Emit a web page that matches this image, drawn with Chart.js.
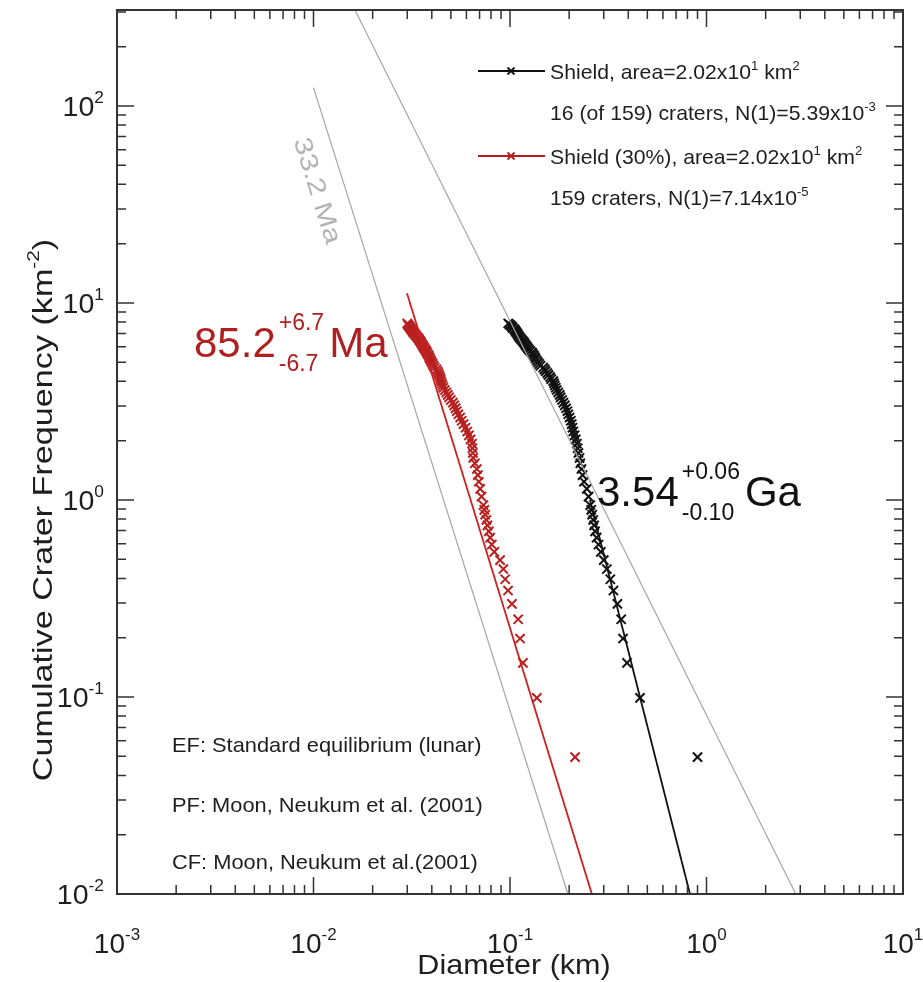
<!DOCTYPE html>
<html lang="en">
<head>
  <meta charset="UTF-8">
  <title>Shield crater size-frequency distribution</title>
  <script src="https://cdn.jsdelivr.net/npm/chart.js"></script>
  <style>
    body { margin: 0; background: white; }
    #wrap { position: absolute; left: 0; top: 0; width: 923px; height: 982px; }
  </style>
</head>
<body>
<div id="wrap"><canvas id="csfd" width="923" height="982"></canvas></div>

<script>
// cumulative frequency (km^-2), same steps for both shield plots
let cumN = [7.871, 7.772, 7.673, 7.574, 7.475, 7.376, 7.277, 7.178, 7.079, 6.980,
  6.881, 6.782, 6.683, 6.584, 6.485, 6.386, 6.287, 6.188, 6.089, 5.990,
  5.891, 5.792, 5.693, 5.594, 5.495, 5.396, 5.297, 5.198, 5.099, 5.000,
  4.901, 4.802, 4.703, 4.604, 4.505, 4.406, 4.307, 4.208, 4.109, 4.010,
  3.911, 3.812, 3.713, 3.614, 3.515, 3.416, 3.317, 3.218, 3.119, 3.020,
  2.921, 2.822, 2.723, 2.624, 2.525, 2.426, 2.327, 2.228, 2.129, 2.030,
  1.931, 1.832, 1.733, 1.634, 1.535, 1.436, 1.337, 1.238, 1.139, 1.040,
  0.941, 0.891, 0.842, 0.792, 0.743, 0.693, 0.644, 0.594, 0.545, 0.495,
  0.446, 0.396, 0.347, 0.297, 0.248, 0.198, 0.149, 0.099, 0.0495];

// diameters (km), Shield
let shieldD = [0.0980, 0.0995, 0.1010, 0.1025, 0.1030, 0.1050, 0.1060, 0.1070, 0.1080, 0.1090,
  0.1100, 0.1110, 0.1120, 0.1135, 0.1150, 0.1165, 0.1180, 0.1190, 0.1205, 0.1220,
  0.1235, 0.1250, 0.1270, 0.1295, 0.1310, 0.1325, 0.1340, 0.1350, 0.1370, 0.1390,
  0.1410, 0.1430, 0.1475, 0.1500, 0.1520, 0.1550, 0.1570, 0.1600, 0.1620, 0.1660,
  0.1675, 0.1690, 0.1710, 0.1730, 0.1760, 0.1790, 0.1810, 0.1840, 0.1870, 0.1900,
  0.1930, 0.1960, 0.1980, 0.2010, 0.2040, 0.2060, 0.2080, 0.2100, 0.2130, 0.2160,
  0.2190, 0.2210, 0.2230, 0.2260, 0.2280, 0.2310, 0.2340, 0.2380, 0.2460, 0.2510,
  0.2560, 0.2590, 0.2620, 0.2650, 0.2680, 0.2710, 0.2760, 0.2820, 0.2900, 0.3000,
  0.3110, 0.3240, 0.3360, 0.3520, 0.3680, 0.3760, 0.3940, 0.4590, 0.9000];

// diameters (km), Shield (30%)
let shield30D = [0.0300, 0.0302, 0.0305, 0.0308, 0.0311, 0.0314, 0.0317, 0.0320, 0.0323, 0.0327,
  0.0331, 0.0335, 0.0339, 0.0343, 0.0346, 0.0350, 0.0353, 0.0356, 0.0360, 0.0363,
  0.0367, 0.0371, 0.0375, 0.0378, 0.0382, 0.0386, 0.0389, 0.0392, 0.0396, 0.0400,
  0.0404, 0.0408, 0.0413, 0.0422, 0.0428, 0.0432, 0.0436, 0.0440, 0.0443, 0.0446,
  0.0450, 0.0454, 0.0458, 0.0466, 0.0474, 0.0482, 0.0490, 0.0500, 0.0512, 0.0520,
  0.0528, 0.0536, 0.0546, 0.0558, 0.0568, 0.0580, 0.0594, 0.0606, 0.0618, 0.0630,
  0.0641, 0.0644, 0.0647, 0.0650, 0.0662, 0.0678, 0.0686, 0.0694, 0.0705, 0.0716,
  0.0733, 0.0740, 0.0748, 0.0758, 0.0768, 0.0780, 0.0793, 0.0808, 0.0832, 0.0890,
  0.0925, 0.0945, 0.0977, 0.1023, 0.1100, 0.1125, 0.1164, 0.1370, 0.2144];

// fitted curves and reference lines, [D, N] end points
let fitShield = [[0.2553, 1.0], [0.824, 0.01]];
let fitShield30 = [[0.0299, 11.2], [0.261, 0.01]];
let isochron = [[0.01, 124], [0.197, 0.01]];
let equilibrium = [[0.01, 811], [10, 0.00081]];

let xDecades = [-3, -2, -1, 0, 1];
let yDecades = [-2, -1, 0, 1, 2];

const FONT = '"Liberation Sans", Arial, Helvetica, sans-serif';
const RED = '#b01f1f';
const INK = '#1e1e1e';

function pts(ds, ns) { return ds.map((d, i) => ({ x: d, y: ns[i] })); }
function pairs(a) { return a.map(p => ({ x: p[0], y: p[1] })); }

// draws a run of text pieces; kind 1 = superscript
function richText(ctx, parts, x, y, size, color, align, sx) {
  sx = sx || 1;
  let small = Math.round(size * 0.6);
  let w = 0;
  parts.forEach(p => {
    ctx.font = (p[1] ? small : size) + 'px ' + FONT;
    w += ctx.measureText(p[0]).width;
  });
  ctx.save();
  ctx.translate(x, y);
  ctx.scale(sx, 1);
  ctx.fillStyle = color;
  ctx.textAlign = 'left';
  ctx.textBaseline = 'alphabetic';
  let cx = align === 'center' ? -w / 2 : (align === 'right' ? -w : 0);
  parts.forEach(p => {
    ctx.font = (p[1] ? small : size) + 'px ' + FONT;
    ctx.fillText(p[0], cx, p[1] ? -size * 0.45 : 0);
    cx += ctx.measureText(p[0]).width;
  });
  ctx.restore();
}

// model age with upper / lower errors stacked
function ageText(ctx, main, up, down, unit, x, y, size, color) {
  ctx.save();
  ctx.fillStyle = color;
  ctx.textAlign = 'left';
  ctx.textBaseline = 'alphabetic';
  ctx.font = size + 'px ' + FONT;
  ctx.fillText(main, x, y);
  let cx = x + ctx.measureText(main).width + 3;
  let small = Math.round(size * 0.55);
  ctx.font = small + 'px ' + FONT;
  ctx.fillText(up, cx, y - 27);
  ctx.fillText(down, cx, y + 14);
  cx += Math.max(ctx.measureText(up).width, ctx.measureText(down).width) + 5;
  ctx.font = size + 'px ' + FONT;
  ctx.fillText(unit, cx, y);
  ctx.restore();
}

function cross(ctx, x, y, r) {
  ctx.beginPath();
  ctx.moveTo(x - r, y - r); ctx.lineTo(x + r, y + r);
  ctx.moveTo(x - r, y + r); ctx.lineTo(x + r, y - r);
  ctx.stroke();
}

const framePlugin = {
  id: 'frame',
  afterDraw(chart) {
    const ctx = chart.ctx;
    const a = chart.chartArea;
    const xs = chart.scales.x, ys = chart.scales.y;
    ctx.save();
    ctx.strokeStyle = '#333';
    ctx.lineWidth = 1.5;

    // ticks on all four sides, pointing inward
    xDecades.forEach(d => {
      for (let m = 1; m <= 9; m++) {
        let v = m * Math.pow(10, d);
        if (v < xs.min * 0.999 || v > xs.max * 1.001) continue;
        let px = xs.getPixelForValue(v);
        let len = m === 1 ? 17 : 9;
        ctx.beginPath();
        ctx.moveTo(px, a.bottom); ctx.lineTo(px, a.bottom - len);
        ctx.moveTo(px, a.top); ctx.lineTo(px, a.top + len);
        ctx.stroke();
      }
    });
    yDecades.forEach(d => {
      for (let m = 1; m <= 9; m++) {
        let v = m * Math.pow(10, d);
        if (v < ys.min * 0.999 || v > ys.max * 1.001) continue;
        let py = ys.getPixelForValue(v);
        let len = m === 1 ? 17 : 9;
        ctx.beginPath();
        ctx.moveTo(a.left, py); ctx.lineTo(a.left + len, py);
        ctx.moveTo(a.right, py); ctx.lineTo(a.right - len, py);
        ctx.stroke();
      }
    });
    ctx.lineWidth = 2;
    ctx.strokeRect(a.left, a.top, a.right - a.left, a.bottom - a.top);

    // tick labels
    xDecades.forEach(d => {
      let px = xs.getPixelForValue(Math.pow(10, d));
      richText(ctx, [['10', 0], [String(d), 1]], px, 953, 28, INK, 'center', 1.0);
    });
    yDecades.forEach(d => {
      let py = ys.getPixelForValue(Math.pow(10, d));
      richText(ctx, [['10', 0], [String(d), 1]], 104, py + 10, 28, INK, 'right', 1.02);
    });

    // axis titles
    richText(ctx, [['Diameter (km)', 0]], 514, 974, 28, INK, 'center', 1.09);
    ctx.save();
    ctx.translate(52, 510);
    ctx.rotate(-Math.PI / 2);
    richText(ctx, [['Cumulative Crater Frequency (km', 0], ['-2', 1], [')', 0]], 0, 0, 28, INK, 'center', 1.22);
    ctx.restore();

    // isochron label along the grey line
    let p0 = { x: xs.getPixelForValue(isochron[0][0]), y: ys.getPixelForValue(isochron[0][1]) };
    let p1 = { x: xs.getPixelForValue(isochron[1][0]), y: ys.getPixelForValue(isochron[1][1]) };
    ctx.save();
    ctx.translate(310, 193);
    ctx.rotate(Math.atan2(p1.y - p0.y, p1.x - p0.x));
    richText(ctx, [['33.2 Ma', 0]], 0, 0, 25, '#b3b3b3', 'center', 1.22);
    ctx.restore();

    // model ages
    ageText(ctx, '85.2', '+6.7', '-6.7', 'Ma', 194, 357, 42, RED);
    ageText(ctx, '3.54', '+0.06', '-0.10', 'Ga', 597, 506, 42, '#111');

    // legend, top right
    ctx.lineWidth = 1.8;
    ctx.strokeStyle = '#111';
    ctx.beginPath(); ctx.moveTo(478, 71); ctx.lineTo(545, 71); ctx.stroke();
    cross(ctx, 511, 71, 3.5);
    ctx.strokeStyle = RED;
    ctx.beginPath(); ctx.moveTo(478, 156); ctx.lineTo(545, 156); ctx.stroke();
    cross(ctx, 511, 156, 3.5);
    richText(ctx, [['Shield, area=2.02x10', 0], ['1', 1], [' km', 0], ['2', 1]], 550, 79, 21, INK, 'left', 1.01);
    richText(ctx, [['16 (of 159) craters, N(1)=5.39x10', 0], ['-3', 1]], 550, 120, 21, INK, 'left', 1.01);
    richText(ctx, [['Shield (30%), area=2.02x10', 0], ['1', 1], [' km', 0], ['2', 1]], 550, 164, 21, INK, 'left', 1.01);
    richText(ctx, [['159 craters, N(1)=7.14x10', 0], ['-5', 1]], 550, 205, 21, INK, 'left', 1.01);

    // legend, bottom left
    richText(ctx, [['EF: Standard equilibrium (lunar)', 0]], 172, 752, 21, INK, 'left', 1.04);
    richText(ctx, [['PF: Moon, Neukum et al. (2001)', 0]], 172, 812, 21, INK, 'left', 1.04);
    richText(ctx, [['CF: Moon, Neukum et al.(2001)', 0]], 172, 869, 21, INK, 'left', 1.04);
    ctx.restore();
  }
};

const lineStyle = (color, width) => ({
  showLine: true, pointRadius: 0, borderColor: color, borderWidth: width, fill: false
});

new Chart(document.getElementById('csfd'), {
  type: 'scatter',
  data: {
    datasets: [
      Object.assign({ label: 'EF', data: pairs(equilibrium) }, lineStyle('#a5a5a5', 1.2)),
      Object.assign({ label: '33.2 Ma', data: pairs(isochron) }, lineStyle('#a5a5a5', 1.2)),
      Object.assign({ label: 'fit 30%', data: pairs(fitShield30) }, lineStyle('#cf2020', 1.8)),
      Object.assign({ label: 'fit', data: pairs(fitShield) }, lineStyle('#111', 1.8)),
      {
        label: 'Shield (30%)', data: pts(shield30D, cumN),
        pointStyle: 'crossRot', pointRadius: 6.5, borderWidth: 2,
        borderColor: '#b82020', backgroundColor: '#b82020'
      },
      {
        label: 'Shield', data: pts(shieldD, cumN),
        pointStyle: 'crossRot', pointRadius: 6.5, borderWidth: 2,
        borderColor: '#111', backgroundColor: '#111'
      }
    ]
  },
  options: {
    responsive: false,
    animation: false,
    devicePixelRatio: 1,
    layout: { padding: { left: 117, top: 10, right: 20, bottom: 88 } },
    plugins: { legend: { display: false }, tooltip: { enabled: false } },
    scales: {
      x: { type: 'logarithmic', min: 0.001, max: 10, display: false },
      y: { type: 'logarithmic', min: 0.01, max: 307, display: false }
    }
  },
  plugins: [framePlugin]
});
</script>
</body>
</html>
